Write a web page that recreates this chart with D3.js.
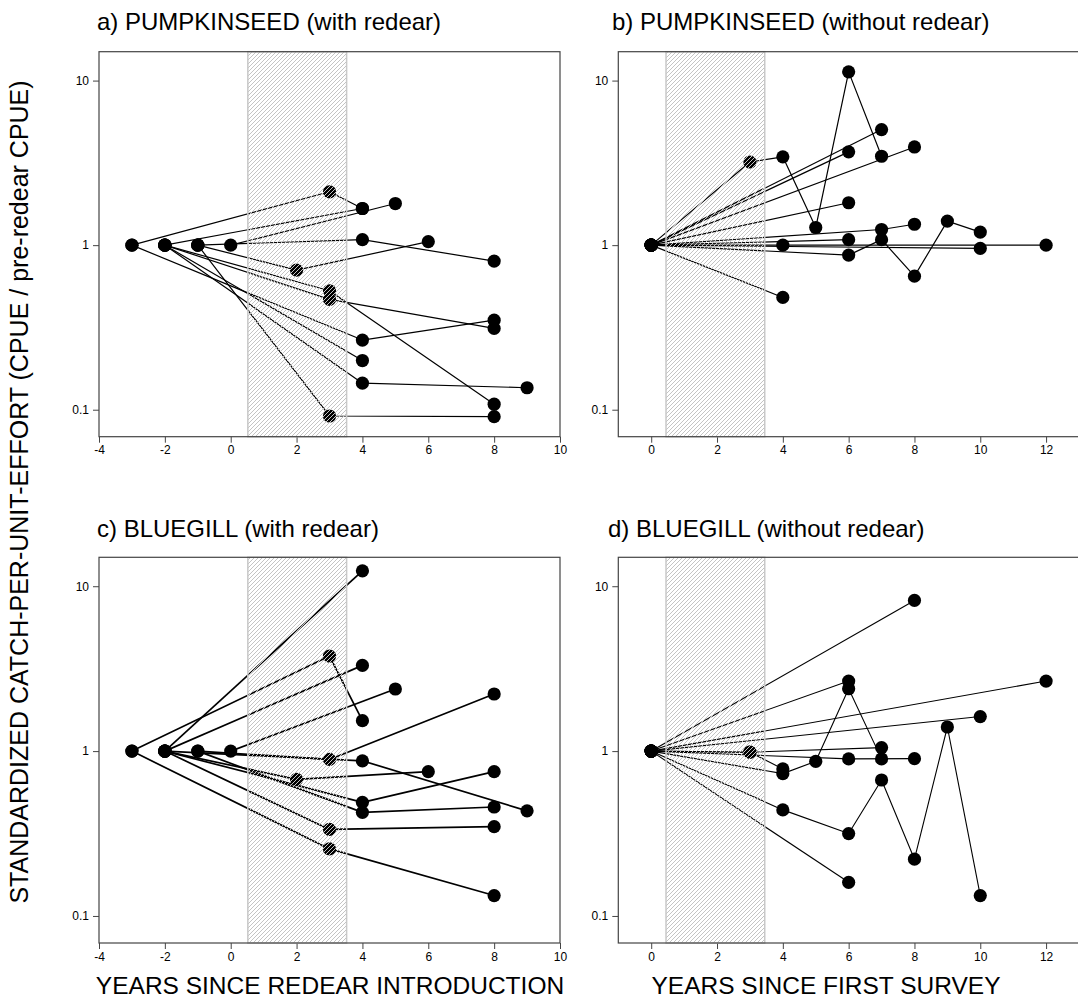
<!DOCTYPE html>
<html>
<head>
<meta charset="utf-8">
<script src="https://cdn.jsdelivr.net/npm/d3@7/dist/d3.min.js"></script>
<style>
  html, body { margin: 0; padding: 0; background: #fff; }
  svg { display: block; font-family: "Liberation Sans", Arial, sans-serif; }
</style>
</head>
<body>
<svg id="chart" width="1078" height="1004"></svg>
<script>
// ---------------- DATA ----------------
// Each lake = list of [year, standardized CPUE]
const pumpkinseedWithRedear = [
  [[-3,1],[3,2.11],[4,1.67]],
  [[-3,1],[4,0.265],[8,0.35]],
  [[-2,1],[4,1.67]],
  [[-2,1],[4,0.199]],
  [[0,1],[5,1.79]],
  [[-1,1],[4,1.08],[8,0.80]],
  [[-1,1],[2,0.705],[6,1.05]],
  [[-2,1],[3,0.528],[8,0.108]],
  [[-2,1],[3,0.468],[8,0.312]],
  [[-1,1],[3,0.0916],[8,0.0907]],
  [[-2,1],[4,0.145],[9,0.136]]
];
const pumpkinseedWithoutRedear = [
  [[0,1],[3,3.2],[4,3.44],[5,1.28],[6,11.3],[7,3.47]],
  [[0,1],[8,3.95]],
  [[0,1],[6,3.69]],
  [[0,1],[7,5.04]],
  [[0,1],[6,1.81]],
  [[0,1],[7,1.245],[8,1.34]],
  [[0,1],[6,1.08]],
  [[0,1],[4,1.0],[12,1.0]],
  [[0,1],[10,0.955]],
  [[0,1],[6,0.87],[7,1.08],[8,0.648],[9,1.40],[10,1.2]],
  [[0,1],[4,0.481]]
];
const bluegillWithRedear = [
  [[-3,1],[3,3.77],[4,1.53]],
  [[-3,1],[3,0.255],[8,0.133]],
  [[-2,1],[4,12.4]],
  [[-2,1],[4,3.31]],
  [[0,1],[5,2.38]],
  [[-1,1],[3,0.89],[8,2.22]],
  [[-2,1],[4,0.873],[9,0.434]],
  [[-2,1],[2,0.673],[6,0.75]],
  [[-2,1],[4,0.489],[8,0.75]],
  [[-1,1],[4,0.425],[8,0.458]],
  [[-2,1],[3,0.335],[8,0.348]]
];
const bluegillWithoutRedear = [
  [[0,1],[8,8.2]],
  [[0,1],[6,2.66]],
  [[0,1],[12,2.66]],
  [[0,1],[10,1.62]],
  [[0,1],[4,0.73],[5,0.867],[6,2.39],[7,0.897]],
  [[0,1],[3,0.985],[7,1.05]],
  [[0,1],[3,0.985],[4,0.78]],
  [[0,1],[6,0.897],[8,0.9]],
  [[0,1],[4,0.44],[6,0.316],[7,0.668],[8,0.221],[9,1.40],[10,0.133]],
  [[0,1],[6,0.16]]
];

const panelTitles = [
  "a) PUMPKINSEED (with redear)",
  "b) PUMPKINSEED (without redear)",
  "c) BLUEGILL (with redear)",
  "d) BLUEGILL (without redear)"
];
const xTicksRedear = [-4,-2,0,2,4,6,8,10];
const xTicksSurvey = [0,2,4,6,8,10,12];
const yTicks = [0.1, 1, 10];
const yTickLabels = ["0.1", "1", "10"];
const xDomainRedear = [-4, 10];
const xDomainSurvey = [-1, 13];
const yDomain = [Math.pow(10,-1.164), Math.pow(10,1.1755)];
const shadeRedear = [0.52, 3.52];
const shadeSurvey = [0.45, 3.45];
const yAxisTitle = "STANDARDIZED CATCH-PER-UNIT-EFFORT (CPUE / pre-redear CPUE)";
const xAxisTitles = ["YEARS SINCE REDEAR INTRODUCTION", "YEARS SINCE FIRST SURVEY"];

// ---------------- LAYOUT ----------------
const svg = d3.select("#chart");
const defs = svg.append("defs");
const pat = defs.append("pattern")
  .attr("id", "hatch").attr("patternUnits", "userSpaceOnUse")
  .attr("width", 4).attr("height", 4);
pat.append("path")
  .attr("d", "M-1,1 l2,-2 M0,4 l4,-4 M3,5 l2,-2")
  .attr("stroke", "#c4c4c4").attr("stroke-width", 1);

const panels = [
  {data: pumpkinseedWithRedear, title: panelTitles[0], xd: xDomainRedear, ticks: xTicksRedear, shade: shadeRedear,
   x0: 99, x1: 560, y0: 51.7, y1: 436.7, tx: 97, ty: 30, lw: 1.2},
  {data: pumpkinseedWithoutRedear, title: panelTitles[1], xd: xDomainSurvey, ticks: xTicksSurvey, shade: shadeSurvey,
   x0: 618.3, x1: 1079, y0: 51.7, y1: 436.7, tx: 612, ty: 30, lw: 1.2},
  {data: bluegillWithRedear, title: panelTitles[2], xd: xDomainRedear, ticks: xTicksRedear, shade: shadeRedear,
   x0: 99, x1: 560, y0: 557.3, y1: 943, tx: 97, ty: 537, lw: 1.7},
  {data: bluegillWithoutRedear, title: panelTitles[3], xd: xDomainSurvey, ticks: xTicksSurvey, shade: shadeSurvey,
   x0: 618.3, x1: 1079, y0: 557.3, y1: 943, tx: 608, ty: 537, lw: 1.1}
];

const frameColor = "#444";

panels.forEach(p => {
  const x = d3.scaleLinear().domain(p.xd).range([p.x0, p.x1]);
  const y = d3.scaleLog().domain(yDomain).range([p.y1, p.y0]);
  const g = svg.append("g");

  const xa = g.append("g").attr("transform", `translate(0,${p.y1})`)
    .call(d3.axisBottom(x).tickValues(p.ticks).tickFormat(d => String(d)).tickSize(6).tickSizeOuter(0).tickPadding(3));
  const ya = g.append("g").attr("transform", `translate(${p.x0},0)`)
    .call(d3.axisLeft(y).tickValues(yTicks).tickFormat((d,i) => yTickLabels[i]).tickSize(6).tickSizeOuter(0).tickPadding(4));
  [xa, ya].forEach(a => {
    a.select(".domain").remove();
    a.selectAll(".tick line").attr("stroke", frameColor);
    a.selectAll(".tick text").attr("font-size", 12).attr("fill", "#000")
      .attr("font-family", '"Liberation Sans", Arial, sans-serif');
  });

  const line = d3.line().x(d => x(d[0])).y(d => y(d[1]));
  g.append("g").selectAll("path").data(p.data).join("path")
    .attr("d", line).attr("fill", "none").attr("stroke", "#000")
    .attr("stroke-width", p.lw).attr("stroke-linejoin", "round");

  const pts = p.data.flat();
  g.append("g").selectAll("circle").data(pts).join("circle")
    .attr("cx", d => x(d[0])).attr("cy", d => y(d[1])).attr("r", 6.6)
    .attr("fill", "#000");

  g.append("rect")
    .attr("x", x(p.shade[0])).attr("y", p.y0)
    .attr("width", x(p.shade[1]) - x(p.shade[0])).attr("height", p.y1 - p.y0)
    .attr("fill", "url(#hatch)").attr("stroke", "#c8c8c8").attr("stroke-width", 1.5);

  g.append("rect").attr("x", p.x0).attr("y", p.y0)
    .attr("width", p.x1 - p.x0).attr("height", p.y1 - p.y0)
    .attr("fill", "none").attr("stroke", frameColor).attr("stroke-width", 1.2);

  svg.append("text").attr("x", p.tx).attr("y", p.ty)
    .attr("font-size", 24).attr("fill", "#000").text(p.title);
});

svg.append("text")
  .attr("transform", "translate(28,492) rotate(-90)")
  .attr("text-anchor", "middle").attr("font-size", 25).attr("fill", "#000")
  .text(yAxisTitle);
svg.append("text").attr("x", 330).attr("y", 994).attr("text-anchor", "middle")
  .attr("font-size", 24.5).attr("fill", "#000").text(xAxisTitles[0]);
svg.append("text").attr("x", 826).attr("y", 994).attr("text-anchor", "middle")
  .attr("font-size", 24.5).attr("fill", "#000").text(xAxisTitles[1]);
</script>
</body>
</html>
